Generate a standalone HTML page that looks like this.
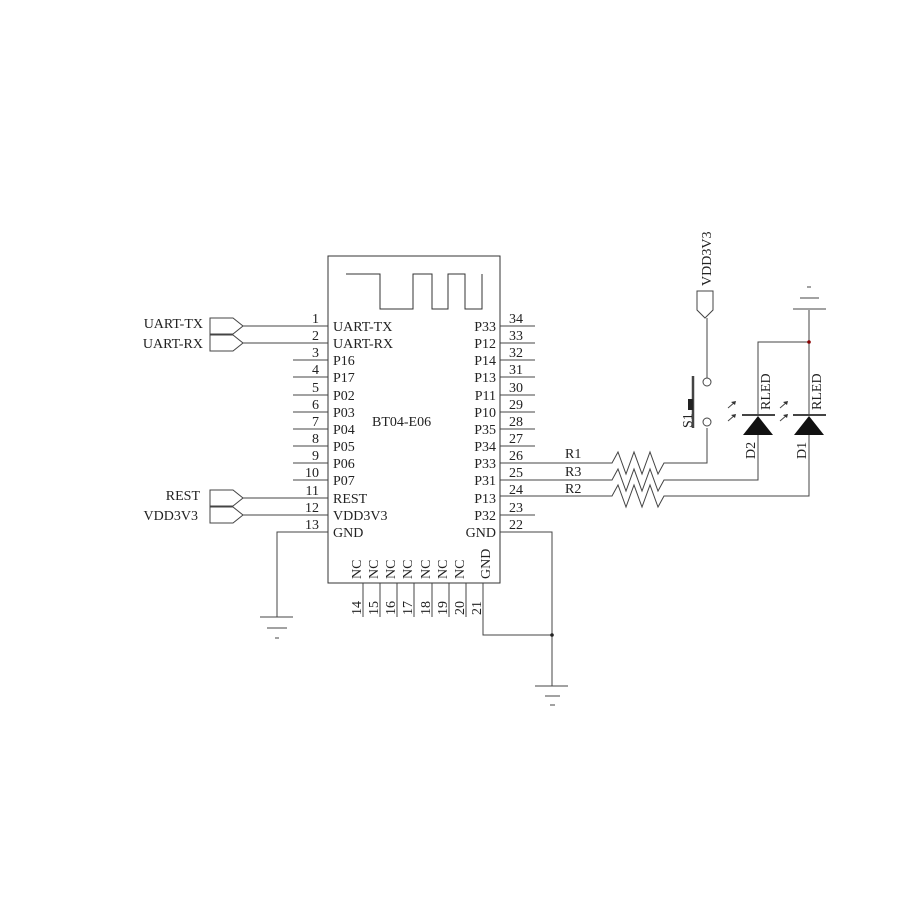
<!DOCTYPE html>
<html><head><style>
html,body{margin:0;padding:0;background:#fff}
svg text{font-family:"Liberation Serif",serif;font-size:14px;fill:#222}
</style></head><body>
<svg width="900" height="900" viewBox="0 0 900 900" xmlns="http://www.w3.org/2000/svg">
<g stroke="#333" stroke-width="1" fill="none">
<rect x="328" y="256" width="172" height="327"/>
<polyline points="346,274 380,274 380,309 413,309 413,274 432,274 432,309 448,309 448,274 465,274 465,309 482,309 482,274"/>
</g>
<g stroke="#444" stroke-width="1">
<line x1="243" y1="326" x2="328" y2="326"/>
<line x1="243" y1="343" x2="328" y2="343"/>
<line x1="293" y1="360" x2="328" y2="360"/>
<line x1="293" y1="377" x2="328" y2="377"/>
<line x1="293" y1="395" x2="328" y2="395"/>
<line x1="293" y1="412" x2="328" y2="412"/>
<line x1="293" y1="429" x2="328" y2="429"/>
<line x1="293" y1="446" x2="328" y2="446"/>
<line x1="293" y1="463" x2="328" y2="463"/>
<line x1="293" y1="480" x2="328" y2="480"/>
<line x1="243" y1="498" x2="328" y2="498"/>
<line x1="243" y1="515" x2="328" y2="515"/>
<polyline fill="none" points="328,532 277,532 277,617"/>
<line x1="260" y1="617" x2="293" y2="617"/>
<line x1="267" y1="628" x2="287" y2="628"/>
<line x1="275" y1="638" x2="279" y2="638"/>
<line x1="500" y1="326" x2="535" y2="326"/>
<line x1="500" y1="343" x2="535" y2="343"/>
<line x1="500" y1="360" x2="535" y2="360"/>
<line x1="500" y1="377" x2="535" y2="377"/>
<line x1="500" y1="395" x2="535" y2="395"/>
<line x1="500" y1="412" x2="535" y2="412"/>
<line x1="500" y1="429" x2="535" y2="429"/>
<line x1="500" y1="446" x2="535" y2="446"/>
<line x1="500" y1="463" x2="607" y2="463"/>
<line x1="500" y1="480" x2="607" y2="480"/>
<line x1="500" y1="496" x2="607" y2="496"/>
<line x1="500" y1="515" x2="535" y2="515"/>
<polyline fill="none" points="500,532 552,532 552,686"/>
<line x1="535" y1="686" x2="568" y2="686"/>
<line x1="545" y1="696" x2="560" y2="696"/>
<line x1="550" y1="705" x2="555" y2="705"/>
<line x1="363" y1="583" x2="363" y2="617"/>
<line x1="380" y1="583" x2="380" y2="617"/>
<line x1="397" y1="583" x2="397" y2="617"/>
<line x1="414" y1="583" x2="414" y2="617"/>
<line x1="432" y1="583" x2="432" y2="617"/>
<line x1="449" y1="583" x2="449" y2="617"/>
<line x1="466" y1="583" x2="466" y2="617"/>
<polyline fill="none" points="483,583 483,635 552,635"/>
<polygon fill="none" points="210,318 233,318 243,326 233,334 210,334"/>
<polygon fill="none" points="210,335 233,335 243,343 233,351 210,351"/>
<polygon fill="none" points="210,490 233,490 243,498 233,506 210,506"/>
<polygon fill="none" points="210,507 233,507 243,515 233,523 210,523"/>
<polyline fill="none" points="607,463 612,463 618,452 626,474 634,452 642,474 650,452 658,474 664,463 707,463 707,428"/>
<polyline fill="none" points="607,480 612,480 618,469 626,491 634,469 642,491 650,469 658,491 664,480 758,480 758,435"/>
<polyline fill="none" points="607,496 612,496 618,485 626,507 634,485 642,507 650,485 658,507 664,496 809,496 809,435"/>
<line x1="707" y1="318" x2="707" y2="378"/>
<line x1="693" y1="376" x2="693" y2="428" stroke-width="2.5"/>
<rect x="688" y="399" width="5" height="11" fill="#222" stroke="none"/>
<polygon fill="none" points="697,291 713,291 713,310 705,318 697,310"/>
<polyline fill="none" points="758,415 758,342 809,342"/>
<line x1="809" y1="310" x2="809" y2="415"/>
<line x1="793" y1="309" x2="826" y2="309"/>
<line x1="800" y1="298" x2="819" y2="298"/>
<line x1="807" y1="287" x2="811" y2="287"/>
<line x1="742" y1="415" x2="775" y2="415" stroke-width="2"/>
<line x1="793" y1="415" x2="826" y2="415" stroke-width="2"/>
<line x1="728" y1="408" x2="735" y2="402"/>
<line x1="728" y1="421" x2="735" y2="415"/>
<line x1="780" y1="408" x2="787" y2="402"/>
<line x1="780" y1="421" x2="787" y2="415"/>
</g>
<g fill="#333">
<polygon points="736,401 731,402 735,405"/>
<polygon points="736,414 731,415 735,418"/>
<polygon points="788,401 783,402 787,405"/>
<polygon points="788,414 783,415 787,418"/>
</g>
<circle cx="707" cy="382" r="4" fill="#fff" stroke="#444"/>
<circle cx="707" cy="422" r="4" fill="#fff" stroke="#444"/>
<polygon points="758,416 743,435 773,435" fill="#111"/>
<polygon points="809,416 794,435 824,435" fill="#111"/>
<circle cx="809" cy="342" r="1.8" fill="#800"/>
<circle cx="552" cy="635" r="1.8" fill="#222"/>
<text x="203" y="328" text-anchor="end">UART-TX</text>
<text x="203" y="348" text-anchor="end">UART-RX</text>
<text x="200" y="500" text-anchor="end">REST</text>
<text x="198" y="520" text-anchor="end">VDD3V3</text>
<g text-anchor="end">
<text x="319" y="323">1</text><text x="319" y="340">2</text><text x="319" y="357">3</text>
<text x="319" y="374">4</text><text x="319" y="392">5</text><text x="319" y="409">6</text>
<text x="319" y="426">7</text><text x="319" y="443">8</text><text x="319" y="460">9</text>
<text x="319" y="477">10</text><text x="319" y="495">11</text><text x="319" y="512">12</text>
<text x="319" y="529">13</text>
</g>
<g>
<text x="333" y="331">UART-TX</text><text x="333" y="348">UART-RX</text>
<text x="333" y="365">P16</text><text x="333" y="382">P17</text><text x="333" y="400">P02</text>
<text x="333" y="417">P03</text><text x="333" y="434">P04</text><text x="333" y="451">P05</text>
<text x="333" y="468">P06</text><text x="333" y="485">P07</text><text x="333" y="503">REST</text>
<text x="333" y="520">VDD3V3</text><text x="333" y="537">GND</text>
<text x="372" y="426">BT04-E06</text>
</g>
<g text-anchor="end">
<text x="496" y="331">P33</text><text x="496" y="348">P12</text><text x="496" y="365">P14</text>
<text x="496" y="382">P13</text><text x="496" y="400">P11</text><text x="496" y="417">P10</text>
<text x="496" y="434">P35</text><text x="496" y="451">P34</text><text x="496" y="468">P33</text>
<text x="496" y="485">P31</text><text x="496" y="503">P13</text><text x="496" y="520">P32</text>
<text x="496" y="537">GND</text>
</g>
<g>
<text x="509" y="323">34</text><text x="509" y="340">33</text><text x="509" y="357">32</text>
<text x="509" y="374">31</text><text x="509" y="392">30</text><text x="509" y="409">29</text>
<text x="509" y="426">28</text><text x="509" y="443">27</text><text x="509" y="460">26</text>
<text x="509" y="477">25</text><text x="509" y="494">24</text><text x="509" y="512">23</text>
<text x="509" y="529">22</text>
</g>
<text x="565" y="458">R1</text><text x="565" y="476">R3</text><text x="565" y="493">R2</text>
<g>
<text transform="translate(361,579) rotate(-90)">NC</text>
<text transform="translate(378,579) rotate(-90)">NC</text>
<text transform="translate(395,579) rotate(-90)">NC</text>
<text transform="translate(412,579) rotate(-90)">NC</text>
<text transform="translate(430,579) rotate(-90)">NC</text>
<text transform="translate(447,579) rotate(-90)">NC</text>
<text transform="translate(464,579) rotate(-90)">NC</text>
<text transform="translate(490,579) rotate(-90)">GND</text>
<text transform="translate(361,615) rotate(-90)">14</text>
<text transform="translate(378,615) rotate(-90)">15</text>
<text transform="translate(395,615) rotate(-90)">16</text>
<text transform="translate(412,615) rotate(-90)">17</text>
<text transform="translate(430,615) rotate(-90)">18</text>
<text transform="translate(447,615) rotate(-90)">19</text>
<text transform="translate(464,615) rotate(-90)">20</text>
<text transform="translate(481,615) rotate(-90)">21</text>
<text transform="translate(711,286) rotate(-90)">VDD3V3</text>
<text transform="translate(692,428) rotate(-90)">S1</text>
<text transform="translate(770,410) rotate(-90)">RLED</text>
<text transform="translate(821,410) rotate(-90)">RLED</text>
<text transform="translate(755,459) rotate(-90)">D2</text>
<text transform="translate(806,459) rotate(-90)">D1</text>
</g>
</svg>
</body></html>
